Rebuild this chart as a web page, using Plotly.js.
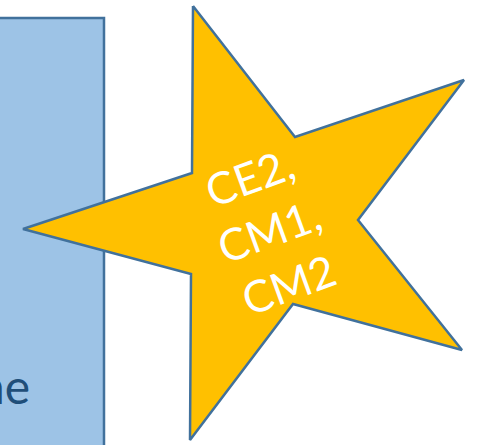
<!DOCTYPE html>
<html>
<head>
<meta charset="utf-8">
<script src="https://cdn.plot.ly/plotly-3.0.1.min.js"></script>
<style>html,body{margin:0;padding:0;background:#fff;}#chart{width:480px;height:445px;}</style>
</head>
<body>
<div id="chart"></div>
<script>
// Panel (blue box) corners
const boxX = [-5, 104, 104, -5, -5];
const boxY = [18, 18, 450, 450, 18];
const boxText = "ne";

// Star vertices (outer and inner points)
const starX = [193, 295, 464, 358, 462, 293, 190, 191, 23, 192, 193];
const starY = [6, 137, 80, 220, 350, 304, 440, 274, 229, 173, 6];
const starLines = ["CE2,", "CM1,", "CM2"];

const border = "#41719C";

const traces = [
  {x: boxX, y: boxY, mode: "lines", fill: "toself", fillcolor: "#9DC3E6",
   line: {color: border, width: 2.5}, hoverinfo: "skip", showlegend: false},
  {x: starX, y: starY, mode: "lines", fill: "toself", fillcolor: "#FFC000",
   line: {color: border, width: 2.5}, hoverinfo: "skip", showlegend: false}
];

const layout = {
  width: 480, height: 445,
  margin: {l: 0, r: 0, t: 0, b: 0},
  paper_bgcolor: "#ffffff", plot_bgcolor: "#ffffff",
  xaxis: {range: [0, 480], visible: false, fixedrange: true},
  yaxis: {range: [445, 0], visible: false, fixedrange: true},
  showlegend: false,
  annotations: [
    {x: 32, y: 385, xref: "x", yref: "y", xanchor: "right", yanchor: "middle",
     text: boxText, showarrow: false,
     font: {family: "Lato, 'Open Sans', sans-serif", size: 48, color: "#1F4E79"}},
    {x: 269, y: 230, xref: "x", yref: "y", xanchor: "center", yanchor: "middle",
     text: starLines.join("<br>"), showarrow: false, textangle: -20, align: "center",
     font: {family: "Lato, 'Open Sans', sans-serif", size: 44, color: "#ffffff"}}
  ]
};

Plotly.newPlot("chart", traces, layout, {staticPlot: true, displayModeBar: false});
</script>
</body>
</html>
